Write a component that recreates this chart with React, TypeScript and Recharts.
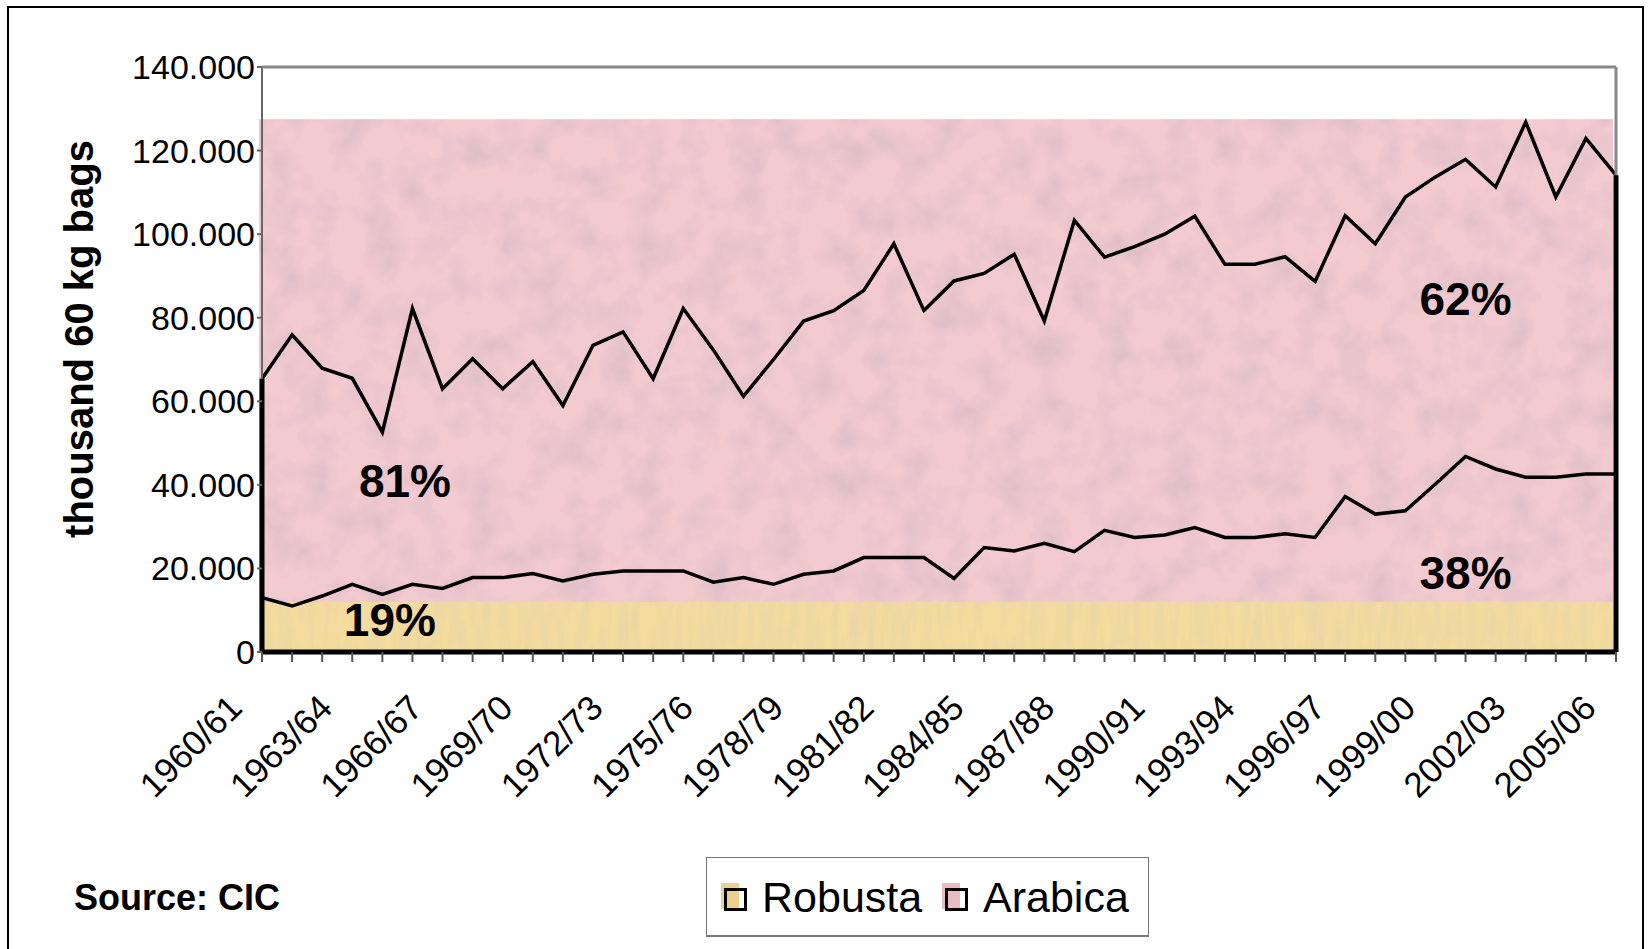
import {
  Area,
  ComposedChart,
  ReferenceArea,
  ReferenceDot,
  ReferenceLine,
  XAxis,
  YAxis,
} from "recharts";

const FONT = '"Liberation Sans", Arial, sans-serif';

const SEASONS = [
  "1960/61", "1961/62", "1962/63", "1963/64", "1964/65", "1965/66",
  "1966/67", "1967/68", "1968/69", "1969/70", "1970/71", "1971/72",
  "1972/73", "1973/74", "1974/75", "1975/76", "1976/77", "1977/78",
  "1978/79", "1979/80", "1980/81", "1981/82", "1982/83", "1983/84",
  "1984/85", "1985/86", "1986/87", "1987/88", "1988/89", "1989/90",
  "1990/91", "1991/92", "1992/93", "1993/94", "1994/95", "1995/96",
  "1996/97", "1997/98", "1998/99", "1999/00", "2000/01", "2001/02",
  "2002/03", "2003/04", "2004/05", "2005/06",
];

// thousand 60 kg bags
const ROBUSTA = [
  13000, 11000, 13400, 16200, 13800, 16200, 15200, 17800, 17800, 18800,
  17000, 18600, 19400, 19400, 19400, 16700, 17800, 16200, 18600, 19400,
  22600, 22600, 22600, 17600, 25000, 24200, 26000, 24000, 29100, 27400,
  28000, 29800, 27400, 27400, 28300, 27400, 37200, 33000, 33800, 40200,
  46800, 43800, 41800, 41800, 42600, 42600,
];

const ARABICA = [
  52400, 64900, 54500, 49300, 38800, 66000, 47800, 52400, 45200, 50700,
  42000, 54800, 57200, 46000, 62800, 55600, 43400, 53800, 60600, 62300,
  63900, 75100, 59100, 71200, 65600, 71000, 53200, 79300, 65400, 69600,
  72000, 74500, 65400, 65400, 66300, 61300, 67200, 64700, 75100, 73500,
  71100, 67500, 85000, 67100, 80300, 71500,
];

const Y_TICKS = [0, 20000, 40000, 60000, 80000, 100000, 120000, 140000];
const Y_MAX = 140000;
const LABEL_EVERY = 3;

// background bands as drawn in the source picture
const ARABICA_BAND_TOP = 127500;
const ROBUSTA_BAND_TOP = 12000;

const SHARE_NOTES = [
  { text: "81%", at: 4.75, value: 41000 },
  { text: "19%", at: 4.25, value: 7800 },
  { text: "62%", at: 40, value: 84500 },
  { text: "38%", at: 40, value: 19100 },
];

const SERIES = [
  { key: "robusta", name: "Robusta", color: "#ecd08f" },
  { key: "arabica", name: "Arabica", color: "#e8bcc3" },
];

const data = SEASONS.map((season, idx) => ({
  idx,
  season,
  robusta: ROBUSTA[idx],
  arabica: ARABICA[idx],
}));

const lastIdx = SEASONS.length - 1;
const firstTotal = ROBUSTA[0] + ARABICA[0];
const lastTotal = ROBUSTA[lastIdx] + ARABICA[lastIdx];

const formatY = (v: number) => (v === 0 ? "0" : v.toLocaleString("de-DE"));

function SeasonTick(props: any) {
  const { x, y, payload } = props;
  if (payload.value % LABEL_EVERY !== 0) return <g />;
  return (
    <text
      transform={`translate(${x - 18},${y + 48}) rotate(-45)`}
      textAnchor="end"
      fontSize={35}
      fontFamily={FONT}
      fill="#000"
    >
      {SEASONS[payload.value]}
    </text>
  );
}

const band = (filterId: string, color: string) => (p: any) => (
  <rect
    x={p.x - 3}
    y={p.y}
    width={p.width}
    height={p.height}
    fill={color}
    filter={`url(#${filterId})`}
  />
);

export default function App() {
  return (
    <div style={{ position: "relative", width: 1652, height: 949, overflow: "hidden", background: "#fff" }}>
      <style>{"body{margin:0}"}</style>
      <div
        style={{
          position: "absolute",
          left: 7,
          top: 6,
          width: 1637,
          height: 980,
          border: "2px solid #000",
          boxSizing: "border-box",
        }}
      />
      <div style={{ position: "absolute", left: 0, top: 0 }}>
        <ComposedChart
          width={1652}
          height={949}
          data={data}
          margin={{ top: 67, right: 36, bottom: 197, left: 162 }}
        >
          <defs>
            <filter id="pinkMottle" x="0" y="0" width="100%" height="100%">
              <feTurbulence type="fractalNoise" baseFrequency="0.03" numOctaves="3" seed="4" result="noise" />
              <feColorMatrix
                in="noise"
                type="matrix"
                values="0 0 0 0 0.7  0 0 0 0 0.5  0 0 0 0 0.56  1.7 0 0 0 -0.68"
                result="spots"
              />
              <feComposite in="spots" in2="SourceGraphic" operator="in" result="clipped" />
              <feMerge>
                <feMergeNode in="SourceGraphic" />
                <feMergeNode in="clipped" />
              </feMerge>
            </filter>
            <filter id="yellowMottle" x="0" y="0" width="100%" height="100%">
              <feTurbulence type="fractalNoise" baseFrequency="0.12 0.02" numOctaves="2" seed="9" result="noise" />
              <feColorMatrix
                in="noise"
                type="matrix"
                values="0 0 0 0 0.78  0 0 0 0 0.66  0 0 0 0 0.4  1.6 0 0 0 -0.64"
                result="spots"
              />
              <feComposite in="spots" in2="SourceGraphic" operator="in" result="clipped" />
              <feMerge>
                <feMergeNode in="SourceGraphic" />
                <feMergeNode in="clipped" />
              </feMerge>
            </filter>
          </defs>

          <ReferenceArea
            x1={0}
            x2={lastIdx}
            y1={0}
            y2={ARABICA_BAND_TOP}
            shape={band("pinkMottle", "#f3cad0")}
          />
          <ReferenceArea
            x1={0}
            x2={lastIdx}
            y1={0}
            y2={ROBUSTA_BAND_TOP}
            shape={band("yellowMottle", "#f4db9e")}
          />

          <XAxis
            type="number"
            dataKey="idx"
            domain={[0, lastIdx]}
            ticks={data.map((d) => d.idx)}
            interval={0}
            height={100}
            axisLine={false}
            tickLine={{ stroke: "#555", strokeWidth: 2 }}
            tickSize={10}
            tickMargin={0}
            tick={<SeasonTick />}
          />
          <YAxis
            domain={[0, Y_MAX]}
            ticks={Y_TICKS}
            width={100}
            tickFormatter={formatY}
            axisLine={false}
            tickLine={{ stroke: "#666", strokeWidth: 2 }}
            tickSize={5}
            tickMargin={2}
            tick={{ fontSize: 34, fill: "#000", fontFamily: FONT }}
          />

          <ReferenceLine x={0} stroke="#666" strokeWidth={2} />
          <ReferenceLine y={Y_MAX} stroke="#888" strokeWidth={3} />
          <ReferenceLine x={lastIdx} stroke="#888" strokeWidth={3} />

          <Area
            type="linear"
            dataKey="robusta"
            stackId="s"
            stroke="#000"
            strokeWidth={3.5}
            fill="none"
            dot={false}
            activeDot={false}
            isAnimationActive={false}
          />
          <Area
            type="linear"
            dataKey="arabica"
            stackId="s"
            stroke="#000"
            strokeWidth={3.5}
            fill="none"
            dot={false}
            activeDot={false}
            isAnimationActive={false}
          />

          <ReferenceLine
            segment={[{ x: 0, y: 0 }, { x: 0, y: firstTotal }]}
            stroke="#000"
            strokeWidth={5}
            ifOverflow="visible"
          />
          <ReferenceLine
            segment={[{ x: lastIdx, y: 0 }, { x: lastIdx, y: lastTotal }]}
            stroke="#000"
            strokeWidth={5}
            ifOverflow="visible"
          />
          <ReferenceLine
            segment={[{ x: 0, y: 0 }, { x: lastIdx, y: 0 }]}
            stroke="#000"
            strokeWidth={5}
            ifOverflow="visible"
          />

          {SHARE_NOTES.map((n) => (
            <ReferenceDot
              key={n.text}
              x={n.at}
              y={n.value}
              r={0}
              fill="none"
              stroke="none"
              label={{
                value: n.text,
                position: "center",
                fontSize: 46,
                fontWeight: 700,
                fill: "#000",
                fontFamily: FONT,
              }}
            />
          ))}
        </ComposedChart>
      </div>

      <svg
        width={1652}
        height={949}
        style={{ position: "absolute", left: 0, top: 0, pointerEvents: "none" }}
      >
        <text
          transform="translate(93,339) rotate(-90)"
          textAnchor="middle"
          fontSize={40}
          fontWeight={700}
          fontFamily={FONT}
          fill="#000"
        >
          thousand 60 kg bags
        </text>
        <text x={74} y={910} fontSize={36} fontWeight={700} fontFamily={FONT} fill="#000">
          Source: CIC
        </text>
      </svg>

      <div
        style={{
          position: "absolute",
          left: 706,
          top: 857,
          width: 443,
          height: 80,
          border: "1px solid #777",
          borderBottomWidth: 2,
          boxSizing: "border-box",
          background: "#fff",
          fontFamily: FONT,
        }}
      >
        {SERIES.map((s, i) => {
          const base = i === 0 ? 14 : 235;
          return (
            <div key={s.key}>
              <div
                style={{
                  position: "absolute",
                  left: base,
                  top: 25,
                  width: 18,
                  height: 26,
                  background: s.color,
                }}
              />
              <div
                style={{
                  position: "absolute",
                  left: base + 3,
                  top: 30,
                  width: 23,
                  height: 23,
                  border: "3px solid #000",
                  boxSizing: "border-box",
                }}
              />
              <div
                style={{
                  position: "absolute",
                  left: base + 41,
                  top: 18,
                  fontSize: 43,
                  lineHeight: 1,
                  whiteSpace: "nowrap",
                  color: "#000",
                }}
              >
                {s.name}
              </div>
            </div>
          );
        })}
      </div>
    </div>
  );
}
